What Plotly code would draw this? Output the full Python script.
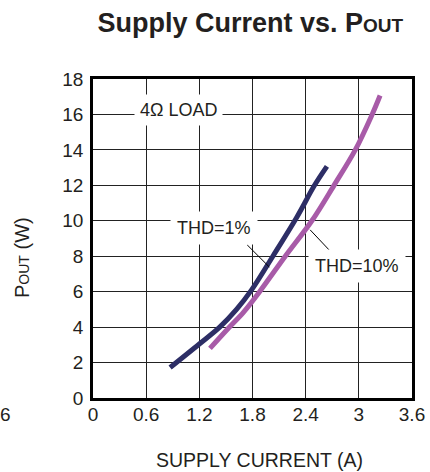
import plotly.graph_objects as go

# ---- data ----
thd1_current = [0.87, 1.2, 1.43, 1.62, 1.79, 2.03, 2.30, 2.50, 2.64]
thd1_pout = [1.72, 3.05, 4.0, 5.0, 6.1, 8.0, 10.2, 12.0, 13.07]

thd10_current = [1.32, 1.53, 1.7, 1.88, 2.17, 2.47, 2.72, 2.96, 3.15, 3.24]
thd10_pout = [2.8, 3.95, 4.85, 6.0, 8.0, 10.0, 12.0, 14.0, 16.0, 17.07]

x_ticks = [0, 0.6, 1.2, 1.8, 2.4, 3.0, 3.6]
x_tick_labels = ["0", "0.6", "1.2", "1.8", "2.4", "3", "3.6"]
y_ticks = [0, 2, 4, 6, 8, 10, 12, 14, 16, 18]
y_tick_labels = [str(v) for v in y_ticks]

FONT = "Arial, Liberation Sans, sans-serif"
TXT = "#231f20"
NAVY = "#2d2e66"
PURPLE = "#a85ba8"

fig = go.Figure()
fig.add_trace(go.Scatter(x=thd1_current, y=thd1_pout, mode="lines",
                         line=dict(color=NAVY, width=5, shape="spline", smoothing=1.0),
                         showlegend=False, hoverinfo="skip"))
fig.add_trace(go.Scatter(x=thd10_current, y=thd10_pout, mode="lines",
                         line=dict(color=PURPLE, width=5, shape="spline", smoothing=1.0),
                         showlegend=False, hoverinfo="skip"))

# leader lines
fig.add_shape(type="line", x0=1.74, y0=8.64, x1=1.99, y1=7.39,
              line=dict(color="#000", width=1), layer="above")
fig.add_shape(type="line", x0=2.45, y0=9.49, x1=2.675, y1=8.30,
              line=dict(color="#000", width=1), layer="above")

ann_font = dict(family=FONT, size=18, color=TXT)
fig.add_annotation(x=0.965, y=16.25, text="4Ω LOAD", showarrow=False,
                   bgcolor="white", borderpad=5, font=ann_font)
fig.add_annotation(x=1.37, y=9.6, text="THD=1%", showarrow=False,
                   bgcolor="white", borderpad=6, font=ann_font)
fig.add_annotation(x=2.975, y=7.43, text="THD=10%", showarrow=False,
                   bgcolor="white", borderpad=6, font=ann_font)

# axis titles
fig.add_annotation(xref="paper", yref="paper", x=0.5235, y=-0.194,
                   xanchor="center", yanchor="middle",
                   text="SUPPLY CURRENT (A)", showarrow=False,
                   font=dict(family=FONT, size=19.5, color=TXT))
fig.add_annotation(xref="paper", yref="paper", x=-0.2226, y=0.442, textangle=-90,
                   xanchor="center", yanchor="middle",
                   text="P<span style='font-size:14px'>OUT</span> (W)",
                   showarrow=False, font=dict(family=FONT, size=20, color=TXT))
# label from neighbouring chart (at the left edge)
fig.add_annotation(xref="paper", yref="paper", x=-0.25, y=-0.053,
                   xanchor="right", yanchor="middle",
                   text="6", showarrow=False, font=dict(family=FONT, size=19, color=TXT))

fig.update_layout(
    template="none",
    width=430, height=472,
    margin=dict(l=93, r=18, t=79, b=74),
    paper_bgcolor="white", plot_bgcolor="white",
    title=dict(text="<b>Supply Current vs. P<span style='font-size:19px'>OUT</span></b>",
               x=0.582, xanchor="center", y=0.953, yanchor="middle",
               font=dict(family=FONT, size=27, color=TXT)),
)
fig.update_xaxes(range=[0, 3.6], tickvals=x_ticks, ticktext=x_tick_labels,
                 showgrid=True, gridcolor="#222", gridwidth=1.2,
                 showline=True, linecolor="#000", linewidth=2.5, mirror=True,
                 zeroline=False, ticks="", ticklabelstandoff=-3, automargin=False,
                 tickfont=dict(family=FONT, size=19, color=TXT))
fig.update_yaxes(range=[0, 18], tickvals=y_ticks, ticktext=y_tick_labels,
                 showgrid=True, gridcolor="#222", gridwidth=1.2,
                 showline=True, linecolor="#000", linewidth=2.5, mirror=True,
                 zeroline=False, ticks="", ticklabelstandoff=3, automargin=False,
                 tickfont=dict(family=FONT, size=19, color=TXT))

fig.write_html("out.html", config={"displayModeBar": False},
               post_script="document.body.style.margin='0';")
